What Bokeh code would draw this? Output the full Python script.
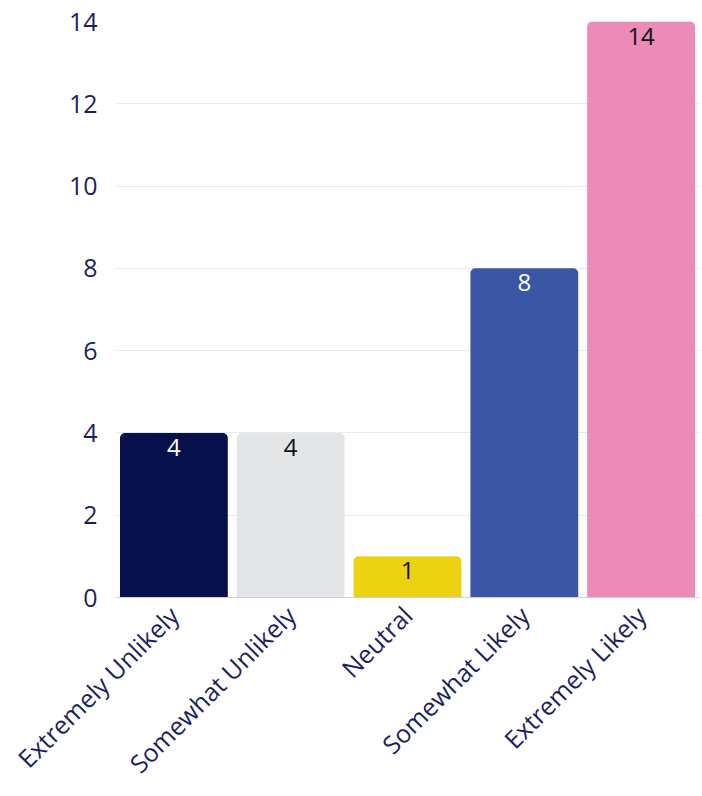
import math
from bokeh.plotting import figure
from bokeh.models import ColumnDataSource, Range1d, FixedTicker
from bokeh.core.properties import value
from bokeh.embed import file_html
from bokeh.resources import INLINE

categories = ["Extremely Unlikely", "Somewhat Unlikely", "Neutral", "Somewhat Likely", "Extremely Likely"]
counts = [4, 4, 1, 8, 14]
y_ticks = [0, 2, 4, 6, 8, 10, 12, 14]

palette = ["#08114b", "#e4e5e6", "#ecd311", "#3b56a4", "#ec8ab8"]
label_colors = ["#ffffff", "#111111", "#111111", "#ffffff", "#111111"]

FONT = "Open Sans"
NAVY = "#1c1f5f"

src = ColumnDataSource(dict(cat=categories, val=counts, color=palette,
                            txt=[str(v) for v in counts], tcolor=label_colors))

p = figure(x_range=categories, y_range=Range1d(0, 14), width=702, height=796,
           output_backend="svg", toolbar_location=None,
           min_border_left=115, min_border_right=3, min_border_top=21, min_border_bottom=199)
p.outline_line_color = None

p.vbar(x="cat", top="val", width=0.923, source=src, fill_color="color", line_color=None,
       border_radius=(5, 5, 0, 0))
p.text(x="cat", y="val", text="txt", source=src, text_color="tcolor",
       text_font=value(FONT), text_font_size="24px", text_align="center",
       text_baseline="top", y_offset=6)

p.yaxis.ticker = FixedTicker(ticks=y_ticks)
p.yaxis.axis_line_color = None
p.yaxis.major_tick_line_color = None
p.yaxis.minor_tick_line_color = None
p.yaxis.major_label_text_font = FONT
p.yaxis.major_label_text_font_size = "25px"
p.yaxis.major_label_text_color = NAVY
p.yaxis.major_label_standoff = 12

p.xaxis.axis_line_color = "#cfd0e6"
p.xaxis.major_tick_line_color = None
p.xaxis.major_label_orientation = math.pi / 4
p.xaxis.major_label_text_font = FONT
p.xaxis.major_label_text_font_size = "25px"
p.xaxis.major_label_text_color = NAVY
p.xaxis.major_label_standoff = 7

p.xgrid.grid_line_color = None
p.ygrid.grid_line_color = "#e8e8f0"

open("out.html", "w").write(file_html(p, INLINE))
